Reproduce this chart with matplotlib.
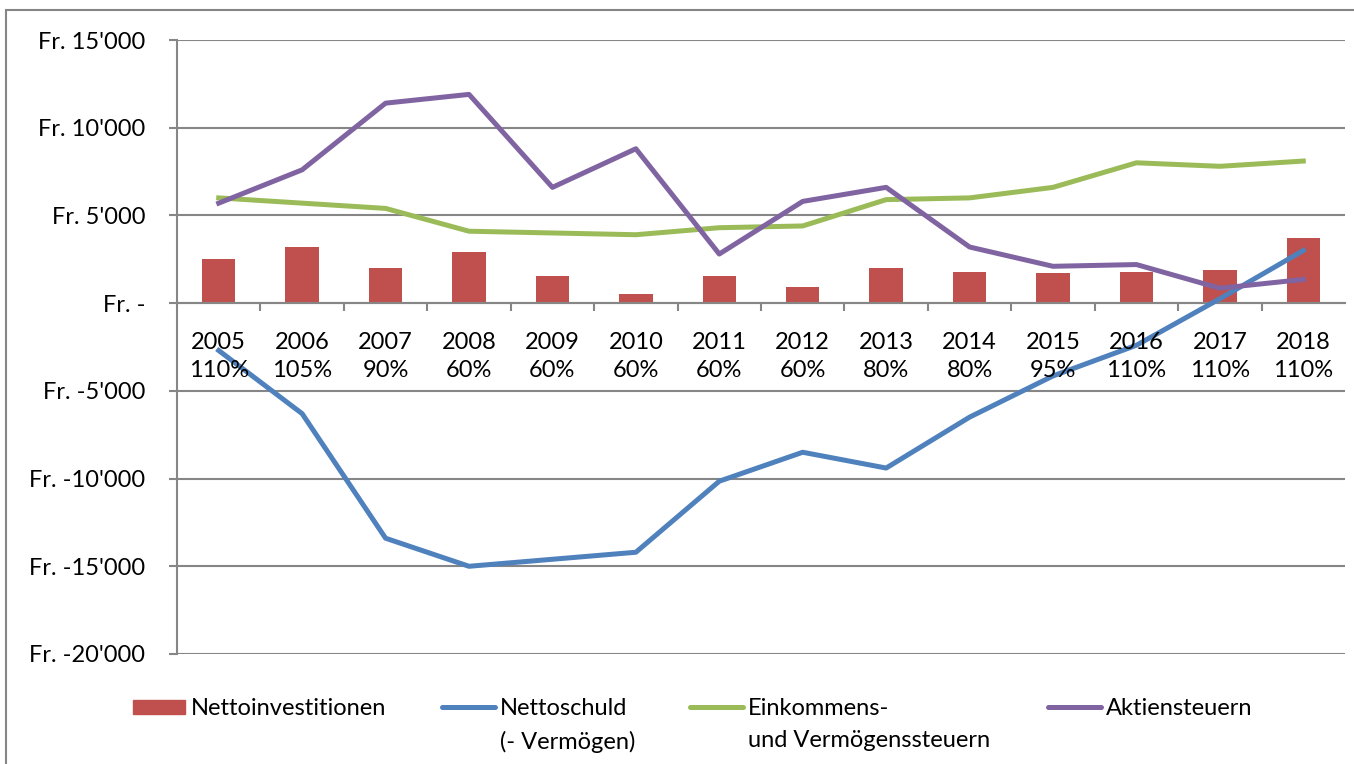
import matplotlib.pyplot as plt
from matplotlib.ticker import FuncFormatter, FixedLocator
from matplotlib.patches import Rectangle
from matplotlib.lines import Line2D

years = ["2005", "2006", "2007", "2008", "2009", "2010", "2011",
         "2012", "2013", "2014", "2015", "2016", "2017", "2018"]
steuerfuss = ["110%", "105%", "90%", "60%", "60%", "60%", "60%",
              "60%", "80%", "80%", "95%", "110%", "110%", "110%"]

nettoinvestitionen = [2500, 3200, 2000, 2900, 1550, 500, 1550,
                      900, 2000, 1800, 1700, 1800, 1900, 3700]
nettoschuld = [-2700, -6300, -13400, -15000, -14600, -14200, -10150,
               -8500, -9400, -6500, -4150, -2400, 250, 3000]
einkommenssteuern = [6000, 5700, 5400, 4100, 4000, 3900, 4300,
                     4400, 5900, 6000, 6600, 8000, 7800, 8100]
aktiensteuern = [5700, 7600, 11400, 11900, 6600, 8800, 2800,
                 5800, 6600, 3200, 2100, 2200, 850, 1350]

legend_labels = ["Nettoinvestitionen", "Nettoschuld\n(- Vermögen)",
                 "Einkommens-\nund Vermögenssteuern", "Aktiensteuern"]

plt.rcParams['font.family'] = ['Lato', 'DejaVu Sans']

W, H = 1354, 764
fig = plt.figure(figsize=(W / 100, H / 100), dpi=100)
ax = fig.add_axes([177 / W, 1 - 654 / H, (1345 - 177) / W, (654 - 40) / H])

grid_col = "#868686"
colors = ["#C0504D", "#4F81BD", "#9BBB59", "#8064A2"]
fs = 17
x = list(range(len(years)))

ax.bar(x, nettoinvestitionen, width=0.4, color=colors[0], zorder=2)
ax.plot(x, nettoschuld, color=colors[1], lw=3.6, zorder=3)
ax.plot(x, einkommenssteuern, color=colors[2], lw=3.6, zorder=3)
ax.plot(x, aktiensteuern, color=colors[3], lw=3.6, zorder=3)

ax.set_xlim(-0.5, len(years) - 0.5)
ax.set_ylim(-20000, 15000)
ax.set_yticks(range(-20000, 15001, 5000))


def fr_fmt(v, pos):
    if v == 0:
        return "Fr. -"
    return "Fr. " + f"{int(v):,}".replace(",", "'")


ax.yaxis.set_major_formatter(FuncFormatter(fr_fmt))
ax.tick_params(axis='y', length=6, width=1.5, color=grid_col, labelsize=fs, pad=17)
ax.yaxis.grid(True, color=grid_col, lw=1.5, zorder=0)
ax.set_axisbelow(True)

# category axis sits on the zero line
ax.spines['bottom'].set_position(('data', 0))
ax.spines['bottom'].set_color(grid_col)
ax.spines['bottom'].set_linewidth(1.5)
ax.spines['left'].set_color(grid_col)
ax.spines['left'].set_linewidth(1.5)
ax.spines['top'].set_visible(False)
ax.spines['right'].set_visible(False)
ax.xaxis.set_major_locator(FixedLocator([i + 0.5 for i in x[:-1]]))
ax.tick_params(axis='x', length=6, width=1.5, color=grid_col, labelbottom=False)

for i in x:
    ax.text(i, -1650, years[i] + "\n" + steuerfuss[i], ha='center', va='top',
            fontsize=fs, linespacing=1.42, zorder=4)

# legend drawn by hand so the keys line up with the first text line
key_x = [133, 442, 690, 1048]
key_y = 1 - 707 / H
for k, (kx, lab) in enumerate(zip(key_x, legend_labels)):
    if k == 0:
        fig.patches.append(Rectangle((kx / W, 1 - 714 / H), 52 / W, 14 / H,
                                     transform=fig.transFigure, color=colors[0]))
    else:
        fig.lines.append(Line2D([kx / W, (kx + 53) / W], [key_y, key_y], transform=fig.transFigure,
                                color=colors[k], lw=3.6, solid_capstyle='round'))
    fig.text((kx + 58) / W, 1 - 698 / H, lab, ha='left', va='top', fontsize=fs, linespacing=1.65)

fig.patches.append(Rectangle((6 / W, -0.05), 1.1, 1 - 10 / H + 0.05, transform=fig.transFigure,
                             fill=False, edgecolor=grid_col, lw=1.5))

fig.savefig("out.png", dpi=100)
